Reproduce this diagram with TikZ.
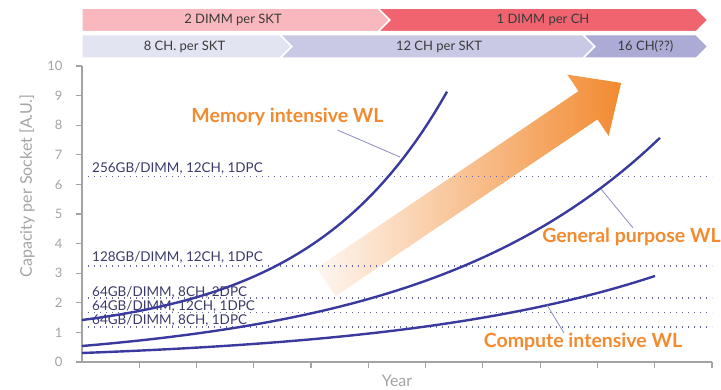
\documentclass[tikz,border=0pt]{standalone}
\usepackage{fontspec}
\setmainfont{Lato}
\usetikzlibrary{shapes.symbols,calc}
\definecolor{capblue}{HTML}{3A3A9E}
\definecolor{capnavy}{HTML}{3A3A6A}
\definecolor{capdot}{HTML}{6666A0}
\definecolor{capleader}{HTML}{8C8CC4}
\definecolor{caporange}{HTML}{F28A30}
\definecolor{capgray}{HTML}{A3A3A3}
\definecolor{captext}{HTML}{3A3A3A}
\definecolor{dimmpink}{HTML}{F8B8BD}
\definecolor{dimmred}{HTML}{F0646F}
\definecolor{chlight}{HTML}{E3E4F2}
\definecolor{chmid}{HTML}{C9C9E5}
\definecolor{chdark}{HTML}{ABABD6}

\begin{document}
\begin{tikzpicture}[
    x=1pt,y=-1pt,
    band/.style={
        signal,
        signal to=east,
        signal pointer angle=90,
        minimum height=23.5pt,
        inner sep=0pt,
        draw=white,
        line width=1.5pt,
        text=captext,
        font=\fontsize{13}{15}\selectfont
    },
    capaxis/.style={capgray,line width=2.2pt},
    axtick/.style={capgray,line width=1.2pt},
    capline/.style={capdot,line width=1.6pt,dash pattern=on 1.4pt off 4.6pt},
    levellabel/.style={
        anchor=base west,
        inner sep=0pt,
        text=capnavy,
        font=\fontsize{13.5}{15}\selectfont
    },
    trend/.style={capblue,line width=2.4pt},
    leader/.style={capleader,line width=0.8pt},
    wl/.style={
        text=caporange,
        inner sep=0pt,
        font=\fontsize{19.5}{21}\selectfont\bfseries
    }
]
\useasboundingbox (0,0) rectangle (721,390);

% DIMM and channel roadmap
\node[band,fill=dimmpink,minimum width=314pt] (dimmtwo) at (233,20) {2 DIMM per SKT};
\node[band,fill=dimmred,signal from=west,minimum width=330pt] (dimmone) at (543,20) {1 DIMM per CH};
\node[band,fill=chlight,minimum width=217pt] (cheight) at (184.5,46.5) {8 CH. per SKT};
\node[band,fill=chmid,signal from=west,minimum width=318pt] (chtwelve) at (439,46.5) {12 CH per SKT};
\node[band,fill=chdark,signal from=west,minimum width=125pt] (chsixteen) at (645.5,46.5) {16 CH(??)};

% Growth arrow
\begin{scope}[shift={(326,282)},rotate=34]
    \shade[left color=caporange!7,right color=caporange]
        (0,-17) -- (316,-17) -- (316,-37) -- (356,0) -- (316,37) -- (316,17) -- (0,17) -- cycle;
\end{scope}

% Capacity levels
\draw[capline] (88,176.5) -- (712,176.5);
\draw[capline] (88,266.3) -- (712,266.3);
\draw[capline] (88,298.3) -- (712,298.3);
\draw[capline] (88,312.7) -- (712,312.7);
\draw[capline] (88,327.3) -- (712,327.3);
\node[levellabel] (lvlsix) at (92,173) {256GB/DIMM, 12CH, 1DPC};
\node[levellabel] (lvlthree) at (92,261.7) {128GB/DIMM, 12CH, 1DPC};
\node[levellabel] (lvltwo) at (92,296.5) {64GB/DIMM, 8CH, 2DPC};
\node[levellabel] (lvlonesix) at (92,310.5) {64GB/DIMM, 12CH, 1DPC};
\node[levellabel] (lvlone) at (92,325) {64GB/DIMM, 8CH, 1DPC};

% Axes
\draw[capaxis] (82,66) -- (82,362) -- (712,362);
\foreach \v in {0,...,10} {
    \draw[axtick] (76,{362-29.6*\v}) -- (82,{362-29.6*\v});
    \node[anchor=east,text=capgray,font=\fontsize{13}{15}\selectfont] (ynum\v) at (66,{362-29.6*\v}) {\v};
}
\foreach \k in {1,...,11}
    \draw[axtick] ({82+57.27*\k},362) -- ({82+57.27*\k},368);
\node[text=capgray,font=\fontsize{16}{18}\selectfont] (yearlabel) at (397,381) {Year};
\node[rotate=90,text=capgray,font=\fontsize{16}{18}\selectfont] (caplabel) at (27,186) {Capacity per Socket [A.U.]};

% Workload trends
\draw[trend] plot[domain=0:365,samples=60] ({82+\x},{320-17.76*(exp(0.0072*\x)-1)});
\draw[trend] plot[domain=0:578,samples=60] ({82+\x},{346-20.2*(exp(0.0042*\x)-1)});
\draw[trend] plot[domain=0:573,samples=60] ({82+\x},{353-9.85*(exp(0.0038*\x)-1)});

% Workload labels
\node[wl] (memwl) at (287.5,117) {Memory intensive WL};
\node[wl] (genwl) at (631.5,237) {General purpose WL};
\node[wl] (compwl) at (583,342) {Compute intensive WL};

\coordinate (memhit) at (400,157);
\coordinate (genhit) at (601,189);
\coordinate (comphit) at (547,305);
\draw[leader] (memhit) -- ($(memwl.south)+(50,4)$);
\draw[leader] (genhit) -- ($(genwl.north)+(1.5,0)$);
\draw[leader] (comphit) -- ($(compwl.north)+(-19,0)$);

\end{tikzpicture}
\end{document}
